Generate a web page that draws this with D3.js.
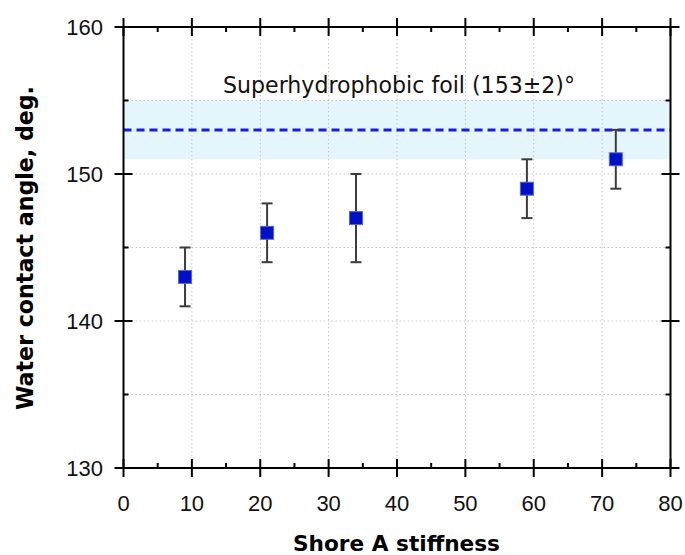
<!DOCTYPE html>
<html><head><meta charset="utf-8">
<script src="https://cdn.jsdelivr.net/npm/d3@7"></script>
<style>body{margin:0;background:#fff;}svg{display:block;}</style>
</head><body>
<svg id="c" width="685" height="555"></svg>
<script>
const xs = [9, 21, 34, 59, 72];
const ys = [143, 146, 147, 149, 151];
const errs = [2, 2, 3, 2, 2];
const xTicks = [0, 10, 20, 30, 40, 50, 60, 70, 80];
const yTicks = [130, 140, 150, 160];
const foilValue = 153, foilErr = 2;
const foilLabel = "Superhydrophobic foil (153\u00B12)\u00B0";
const xTitle = "Shore A stiffness";
const yTitle = "Water contact angle, deg.";

const svg = d3.select("#c");
const L = 123.5, R = 670.5, T = 27, B = 468;
const x = d3.scaleLinear().domain([0, 80]).range([L, R]);
const y = d3.scaleLinear().domain([130, 160]).range([B, T]);

// band
svg.append("rect").attr("x", L).attr("width", R - L)
  .attr("y", y(foilValue + foilErr)).attr("height", y(foilValue - foilErr) - y(foilValue + foilErr))
  .attr("fill", "#e4f5fc");

// grid
const g = svg.append("g").attr("stroke", "#c4c4c4").attr("stroke-width", 1).attr("stroke-dasharray", "1.5,2.5");
g.selectAll(".vg").data(xTicks.slice(1, -1)).enter().append("line")
  .attr("x1", d => x(d)).attr("x2", d => x(d)).attr("y1", T).attr("y2", B);
g.selectAll(".hg").data(d3.range(135, 160, 5)).enter().append("line")
  .attr("y1", d => y(d)).attr("y2", d => y(d)).attr("x1", L).attr("x2", R);

// dashed line
svg.append("line").attr("x1", L).attr("x2", R).attr("y1", y(foilValue)).attr("y2", y(foilValue))
  .attr("stroke", "#1a1ae6").attr("stroke-width", 3).attr("stroke-dasharray", "8,5");

// axes box with mirrored ticks
const ax = svg.append("g").attr("stroke", "#000").attr("stroke-width", 2).attr("fill", "none");
ax.append("rect").attr("x", L).attr("y", T).attr("width", R - L).attr("height", B - T);
const xMinor = d3.range(5, 80, 10);
const yMinor = d3.range(135, 160, 10);
xTicks.forEach(d => {
  ax.append("line").attr("x1", x(d)).attr("x2", x(d)).attr("y1", B - 9).attr("y2", B + 9);
  ax.append("line").attr("x1", x(d)).attr("x2", x(d)).attr("y1", T - 9).attr("y2", T + 9);
});
xMinor.forEach(d => {
  ax.append("line").attr("x1", x(d)).attr("x2", x(d)).attr("y1", B - 5).attr("y2", B);
  ax.append("line").attr("x1", x(d)).attr("x2", x(d)).attr("y1", T).attr("y2", T + 5);
});
yTicks.forEach(d => {
  ax.append("line").attr("y1", y(d)).attr("y2", y(d)).attr("x1", L - 9).attr("x2", L + 9);
  ax.append("line").attr("y1", y(d)).attr("y2", y(d)).attr("x1", R - 9).attr("x2", R + 9);
});
yMinor.forEach(d => {
  ax.append("line").attr("y1", y(d)).attr("y2", y(d)).attr("x1", L).attr("x2", L + 5);
  ax.append("line").attr("y1", y(d)).attr("y2", y(d)).attr("x1", R - 5).attr("x2", R);
});

// tick labels
const tf = "'Liberation Sans', Arial, sans-serif";
svg.selectAll(".xl").data(xTicks).enter().append("text")
  .attr("x", d => x(d)).attr("y", 511).attr("text-anchor", "middle")
  .attr("font-family", tf).attr("font-size", 22).attr("fill", "#111").text(d => d);
svg.selectAll(".yl").data(yTicks).enter().append("text")
  .attr("x", 103).attr("y", d => y(d) + 8).attr("text-anchor", "end")
  .attr("font-family", tf).attr("font-size", 22).attr("fill", "#111").text(d => d);

// error bars
const eb = svg.append("g").attr("stroke", "#3c3c3c").attr("stroke-width", 2);
xs.forEach((xv, i) => {
  const cx = x(xv);
  eb.append("line").attr("x1", cx).attr("x2", cx).attr("y1", y(ys[i] + errs[i])).attr("y2", y(ys[i] - errs[i]));
  [ys[i] + errs[i], ys[i] - errs[i]].forEach(v => {
    eb.append("line").attr("x1", cx - 5.5).attr("x2", cx + 5.5).attr("y1", y(v)).attr("y2", y(v));
  });
});

// markers
svg.selectAll(".m").data(xs).enter().append("rect")
  .attr("x", d => x(d) - 6.5).attr("y", (d, i) => y(ys[i]) - 6.5)
  .attr("width", 13).attr("height", 13)
  .attr("fill", "#0010c4").attr("stroke", "#5a66d8").attr("stroke-width", 1);

// annotation
svg.append("text").attr("x", 223).attr("y", 93)
  .attr("font-family", "'DejaVu Sans', Tahoma, sans-serif").attr("font-size", 23)
  .attr("textLength", 352).attr("lengthAdjust", "spacingAndGlyphs")
  .attr("fill", "#111").text(foilLabel);

// axis titles
svg.append("text").attr("x", 396.5).attr("y", 551).attr("text-anchor", "middle")
  .attr("font-family", "'DejaVu Sans', Tahoma, sans-serif").attr("font-weight", "bold").attr("font-size", 22)
  .attr("textLength", 207).attr("lengthAdjust", "spacingAndGlyphs")
  .attr("fill", "#000").text(xTitle);
svg.append("text").attr("transform", "translate(33,248) rotate(-90)").attr("text-anchor", "middle")
  .attr("font-family", "'DejaVu Sans', Tahoma, sans-serif").attr("font-weight", "bold").attr("font-size", 23)
  .attr("textLength", 324).attr("lengthAdjust", "spacingAndGlyphs")
  .attr("fill", "#000").text(yTitle);
</script>
</body></html>
